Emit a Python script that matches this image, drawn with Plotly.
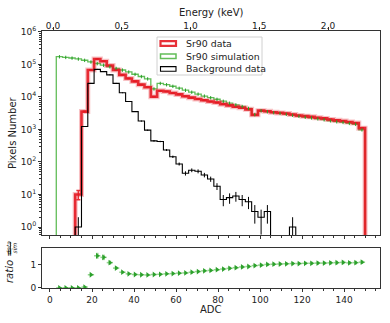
import plotly.graph_objects as go

# histogram bin edges (ADC), 3 ADC per bin
adc_edges = list(range(3, 151, 3))

# counts per bin (bins 3-6 ... 147-150)
sr90_data = [0, 0, 0, 10, 3550, 67600, 148000, 126000, 93300, 67600,
             47900, 37200, 30200, 24000, 20000, 10200, 15500, 14800, 13200, 12000,
             10500, 9550, 8710, 7940, 7240, 6760, 6030, 5500, 5010, 4680,
             4170, 2820, 3800, 3630, 3390, 3240, 3090, 2880, 2690, 2570,
             2450, 2290, 2190, 2040, 1910, 1820, 1700, 1580, 1100]
sr90_sim = [174000, 166000, 158000, 148000, 135000, 120000, 107000, 95500, 85100, 75900,
            67600, 58900, 50100, 42700, 36300, 17800, 26300, 24000, 21400, 18600,
            16200, 14100, 12300, 10700, 9550, 8510, 7410, 6460, 5750, 5130,
            4470, 2880, 3800, 3550, 3310, 3160, 2950, 2750, 2570, 2400,
            2290, 2140, 2000, 1860, 1740, 1660, 1550, 1450, 980]
background = [0, 0, 0, 1, 1230, 26300, 70800, 60300, 47900, 26300,
              13500, 7240, 3550, 1820, 955, 447, 427, 234, 145, 87,
              45, 56, 52, 40, 30, 18, 7, 8, 9, 7,
              6, 3, 2, 3, 0, 0, 0, 1, 0, 0,
              0, 0, 0, 0, 0, 0, 0, 0, 0]

# data / simulation ratio
ratio = [0.0, 0.0, 0.0, 0.0, 0.03, 0.57, 1.40, 1.33, 1.10, 0.86,
         0.68, 0.61, 0.58, 0.57, 0.56, 0.58, 0.59, 0.61, 0.62, 0.64,
         0.65, 0.68, 0.71, 0.74, 0.76, 0.79, 0.82, 0.85, 0.88, 0.91,
         0.93, 0.97, 0.99, 1.02, 1.03, 1.04, 1.05, 1.06, 1.06, 1.07,
         1.07, 1.08, 1.08, 1.09, 1.10, 1.11, 1.09, 1.10, 1.12]
ratio_err = [0.02, 0.02, 0.02, 0.02, 0.03, 0.05, 0.13, 0.12, 0.09, 0.07,
             0.05, 0.05, 0.05, 0.05, 0.05, 0.05, 0.05, 0.05, 0.05, 0.05,
             0.05, 0.06, 0.06, 0.06, 0.06, 0.06, 0.06, 0.07, 0.07, 0.07,
             0.07, 0.07, 0.07, 0.07, 0.07, 0.07, 0.07, 0.07, 0.07, 0.07,
             0.07, 0.07, 0.07, 0.08, 0.08, 0.08, 0.08, 0.08, 0.08]

energy_ticks = [0.0, 0.5, 1.0, 1.5, 2.0]
count_ticks = [1, 10, 100, 1000, 10000, 100000, 1000000]
count_labels = ["10<sup>0</sup>", "10<sup>1</sup>", "10<sup>2</sup>", "10<sup>3</sup>",
                "10<sup>4</sup>", "10<sup>5</sup>", "10<sup>6</sup>"]
legend_names = ["Sr90 data", "Sr90 simulation", "Background data"]

FLOOR = 1e-2  # stand-in for empty bins on the log axis
centers = [e + 1.5 for e in adc_edges[:-1]]

RED = "rgba(228,26,34,0.9)"
RED_HALO = "rgba(235,80,90,0.35)"
GREEN_LINE = "#62bd58"
GREEN = "#2ca02c"
GREEN_LIGHT = "#92d38c"
FONT = "DejaVu Sans"
TXT = "#222"

# plot area in pixels (for placing the hand-made legend / labels)
ML, MR, MT, MB, W, H = 42, 10, 31, 35, 390, 323


def px_x(px):
    return (px - ML) / (W - ML - MR)


def px_y(py):
    return (H - MB - py) / (H - MT - MB)


def step_xy(vals):
    v = [c if c > 0 else FLOOR for c in vals]
    x = [adc_edges[0]] + adc_edges[:-1] + [adc_edges[-1], adc_edges[-1]]
    y = [FLOOR] + v + [v[-1], FLOOR]
    return x, y


fig = go.Figure()

for vals, color, width in [(sr90_sim, GREEN_LINE, 1.3), (sr90_data, RED_HALO, 5),
                           (sr90_data, RED, 2.6), (background, "black", 1.1)]:
    sx, sy = step_xy(vals)
    fig.add_trace(go.Scatter(x=sx, y=sy, mode="lines", line=dict(color=color, width=width, shape="hv"),
                             showlegend=False, hoverinfo="skip"))

# error bars on the histograms
fig.add_trace(go.Scatter(x=centers, y=[c if c > 0 else None for c in sr90_data], mode="markers",
                         marker=dict(size=1, color=RED), showlegend=False, hoverinfo="skip",
                         error_y=dict(type="sqrt", color=RED, thickness=1.5, width=2)))
fig.add_trace(go.Scatter(x=centers, y=[c if c > 0 else None for c in background], mode="markers",
                         marker=dict(size=1, color="black"), showlegend=False, hoverinfo="skip",
                         error_y=dict(type="sqrt", color="black", thickness=1, width=0)))
fig.add_trace(go.Scatter(x=centers, y=sr90_sim, mode="markers",
                         marker=dict(size=1, color=GREEN), showlegend=False, hoverinfo="skip",
                         error_y=dict(type="percent", value=12, color=GREEN, thickness=1, width=0)))

# top energy axis carrier
fig.add_trace(go.Scatter(x=[], y=[], xaxis="x3", yaxis="y", showlegend=False))

# ratio panel
fig.add_trace(go.Scatter(x=centers, y=ratio, mode="markers", xaxis="x2", yaxis="y2",
                         marker=dict(symbol="triangle-right", size=5, color=GREEN), showlegend=False,
                         hoverinfo="skip",
                         error_y=dict(type="data", array=ratio_err, color=GREEN_LIGHT, thickness=2.5, width=0),
                         error_x=dict(type="constant", value=1.5, color=GREEN_LIGHT, thickness=1.5, width=0)))

axis_common = dict(showline=True, linecolor="#333", linewidth=1, mirror=True, showgrid=False, zeroline=False,
                   automargin=False, ticks="outside", ticklen=3, tickcolor="#333",
                   tickfont=dict(size=9, family=FONT, color=TXT))
minor = dict(ticks="outside", ticklen=2, tickcolor="#333")

# hand-made legend (box + outlined patches + labels)
shapes = [dict(type="rect", xref="paper", yref="paper", x0=px_x(157), x1=px_x(262), y0=px_y(75), y1=px_y(37),
               line=dict(color="#d0d0d0", width=1), fillcolor="white", layer="above")]
annotations = []
for i, (name, color, lw) in enumerate(zip(legend_names, [RED, GREEN_LINE, "black"], [2.2, 1.5, 1.1])):
    cy = 43.5 + 12.7 * i
    shapes.append(dict(type="rect", xref="paper", yref="paper", x0=px_x(160.5), x1=px_x(176),
                       y0=px_y(cy + 2.3), y1=px_y(cy - 2.3), line=dict(color=color, width=lw),
                       fillcolor="rgba(0,0,0,0)", layer="above"))
    annotations.append(dict(text=name, xref="paper", yref="paper", x=px_x(184), y=px_y(cy), xanchor="left",
                            yanchor="middle", showarrow=False, font=dict(size=9.4, family=FONT, color=TXT)))

annotations += [
    dict(text="Energy (keV)", xref="paper", yref="paper", x=0.5, y=px_y(12), xanchor="center", yanchor="middle",
         showarrow=False, font=dict(size=10, family=FONT, color=TXT)),
    dict(text="ADC", xref="paper", yref="paper", x=0.5, y=px_y(309), xanchor="center", yanchor="middle",
         showarrow=False, font=dict(size=10, family=FONT, color=TXT)),
    dict(text="Pixels Number", xref="paper", yref="paper", x=px_x(12), y=px_y(133), textangle=-90,
         xanchor="center", yanchor="middle", showarrow=False, font=dict(size=10, family=FONT, color=TXT)),
    dict(text="<i>ratio</i> =", xref="paper", yref="paper", x=px_x(9), y=px_y(266), textangle=-90,
         xanchor="center", yanchor="middle", showarrow=False, font=dict(size=10, family=FONT, color=TXT)),
    dict(text="<i>data</i>", xref="paper", yref="paper", x=px_x(7.5), y=px_y(248), textangle=-90,
         xanchor="center", yanchor="middle", showarrow=False, font=dict(size=6, family=FONT, color=TXT)),
    dict(text="<i>sim</i>", xref="paper", yref="paper", x=px_x(13.5), y=px_y(248), textangle=-90,
         xanchor="center", yanchor="middle", showarrow=False, font=dict(size=6, family=FONT, color=TXT)),
]
shapes.append(dict(type="line", xref="paper", yref="paper", x0=px_x(10.5), x1=px_x(10.5),
                   y0=px_y(254), y1=px_y(242), line=dict(color=TXT, width=0.8)))

fig.update_layout(
    template="none",
    width=W, height=H,
    margin=dict(l=ML, r=MR, t=MT, b=MB, autoexpand=False),
    paper_bgcolor="white", plot_bgcolor="white",
    font=dict(family=FONT, size=9, color=TXT),
    showlegend=False,
    hovermode=False,
    xaxis=dict(**axis_common, domain=[0, 1], anchor="y", range=[-3.8, 157.1], dtick=20,
               showticklabels=False, minor=dict(dtick=5, **minor)),
    xaxis2=dict(**axis_common, domain=[0, 1], anchor="y2", range=[-3.8, 157.1], dtick=20,
                minor=dict(dtick=5, **minor)),
    xaxis3=dict(showline=False, showgrid=False, zeroline=False, automargin=False, overlaying="x", side="top",
                anchor="y", range=[-0.08, 2.378], tickvals=energy_ticks, tickformat=".1f", ticks="outside",
                ticklen=3, tickcolor="#333", ticklabelstandoff=-6,
                tickfont=dict(size=9, family=FONT, color=TXT)),
    yaxis=dict(**axis_common, domain=[px_y(235), 1], type="log", range=[-0.246, 6.03],
               tickvals=count_ticks, ticktext=count_labels, minor=dict(dtick="D1", **minor)),
    yaxis2=dict(**axis_common, domain=[0, px_y(248)], range=[-0.01, 1.74], tickvals=[0, 1]),
    shapes=shapes,
    annotations=annotations,
)

# drop the browser's default page margin so the figure sits at the window origin
fig.write_html("out.html", config={"displayModeBar": False},
               post_script="document.body.style.margin='0px';")
